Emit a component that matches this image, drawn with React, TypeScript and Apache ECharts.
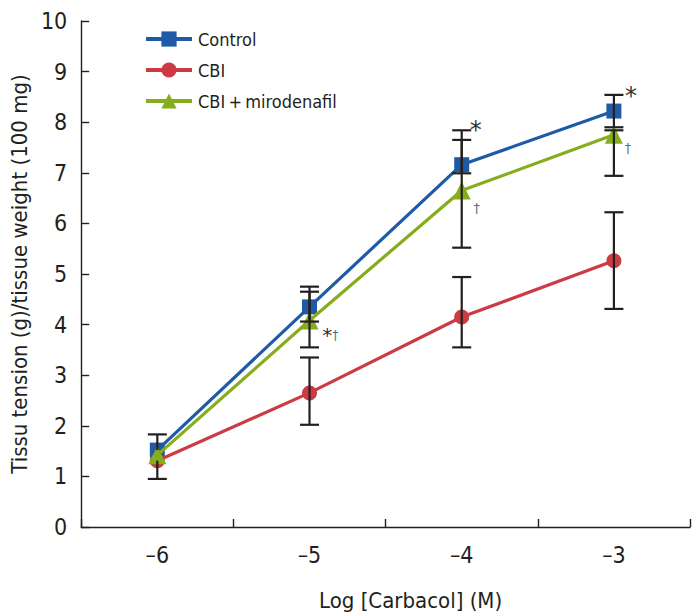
import React, { useEffect, useRef } from "react";
import * as echarts from "echarts";

const categories = ["\u20136", "\u20135", "\u20134", "\u20133"];
const seriesNames = ["Control", "CBI", "CBI\u2009+\u2009mirodenafil"];
const controlValues = [1.52, 4.35, 7.16, 8.22];
const cbiValues = [1.31, 2.65, 4.15, 5.26];
const miroValues = [1.42, 4.08, 6.65, 7.75];
// error bar ends (null = hidden / not drawn)
const controlLow = [null, 4.06, 6.99, 7.9];
const controlHigh = [1.83, 4.75, 7.84, 8.54];
const cbiLow = [0.95, 2.02, 3.55, 4.31];
const cbiHigh = [null, 3.35, 4.94, 6.22];
const miroLow = [null, 3.55, 5.52, 6.94];
const miroHigh = [null, 4.65, 7.65, 7.84];
// significance marks
const controlMarks = [null, null, "*", "*"];
const miroMarks = [null, "*\u2020", "\u2020", "\u2020"];

const FONT = "'DejaVu Sans Condensed', 'Roboto', sans-serif";
const BLUE = "#1f5aa6";
const RED = "#cc3b44";
const GREEN = "#86ad1c";
const INK = "#231f20";

function buildErr(values: number[], low: (number | null)[], high: (number | null)[]) {
  return values.map((v, i) => [i, v, low[i] == null ? NaN : low[i], high[i] == null ? NaN : high[i]]);
}

export default function App() {
  const ref = useRef<HTMLDivElement>(null);
  useEffect(() => {
    if (!ref.current) return;
    const chart = echarts.init(ref.current, null, { renderer: "svg" });

    const errData = [
      ...buildErr(controlValues, controlLow, controlHigh),
      ...buildErr(cbiValues, cbiLow, cbiHigh),
      ...buildErr(miroValues, miroLow, miroHigh),
    ];

    const renderItem = (params: any, api: any) => {
      const x = api.value(0);
      const v = api.value(1);
      const lo = api.value(2);
      const hi = api.value(3);
      const loV = isNaN(lo) ? v : lo;
      const hiV = isNaN(hi) ? v : hi;
      const pLo = api.coord([x, loV]);
      const pHi = api.coord([x, hiV]);
      const hw = 9.5;
      const style = { stroke: INK, lineWidth: 2.2, fill: "none" };
      const children: any[] = [
        { type: "line", shape: { x1: pLo[0], y1: pLo[1], x2: pHi[0], y2: pHi[1] }, style },
      ];
      if (!isNaN(lo)) children.push({ type: "line", shape: { x1: pLo[0] - hw, y1: pLo[1], x2: pLo[0] + hw, y2: pLo[1] }, style });
      if (!isNaN(hi)) children.push({ type: "line", shape: { x1: pHi[0] - hw, y1: pHi[1], x2: pHi[0] + hw, y2: pHi[1] }, style });
      return { type: "group", children };
    };

    const starStyle = { color: "#333", fontSize: 24, fontFamily: "DejaVu Sans", fontWeight: "normal" };
    const daggerStyle = { color: "#5b6b80", fontSize: 14, fontFamily: FONT };

    const controlData = controlValues.map((v, i) =>
      controlMarks[i]
        ? {
            value: v,
            label: {
              show: true,
              position: "inside",
              formatter: "{s|*}",
              offset: i === 2 ? [14, -35] : [17, -15],
              rich: { s: starStyle },
            },
          }
        : v
    );
    const miroData = miroValues.map((v, i) => {
      const m = miroMarks[i];
      if (!m) return v;
      const formatter = m.startsWith("*") ? "{s|*}{d|\u2020}" : "{d|\u2020}";
      const offset = i === 1 ? [21, 14] : i === 2 ? [15, 17] : [14, 13];
      return {
        value: v,
        label: { show: true, position: "inside", formatter, offset, rich: { s: { ...starStyle, fontSize: 20 }, d: daggerStyle } },
      };
    });

    chart.setOption({
      animation: false,
      backgroundColor: "#ffffff",
      textStyle: { fontFamily: FONT },
      grid: { left: 68, right: 10, top: 21, bottom: 86 },
      legend: {
        orient: "vertical",
        left: 139,
        top: 24,
        itemWidth: 46,
        itemHeight: 19,
        itemGap: 11,
        data: seriesNames,
        lineStyle: { width: 4 },
        textStyle: { fontFamily: FONT, fontSize: 18, color: INK, lineHeight: 20, padding: [0, 0, 0, 1] },
      },
      xAxis: {
        type: "category",
        data: categories,
        boundaryGap: true,
        name: "Log [Carbacol] (M)",
        nameLocation: "middle",
        nameGap: 62,
        nameTextStyle: { fontFamily: FONT, fontSize: 22, color: INK, padding: [0, 0, 0, 50] },
        axisLine: { lineStyle: { color: INK, width: 1.4 } },
        axisTick: { show: true, inside: true, length: 8, lineStyle: { color: INK, width: 1.4 } },
        axisLabel: { fontFamily: FONT, fontSize: 23, color: INK, margin: 16 },
        splitLine: { show: false },
      },
      yAxis: {
        type: "value",
        min: 0,
        max: 10,
        interval: 1,
        name: "Tissu tension (g)/tissue weight (100 mg)",
        nameLocation: "middle",
        nameGap: 50,
        nameTextStyle: { fontFamily: FONT, fontSize: 22, color: INK },
        axisLine: { show: true, lineStyle: { color: INK, width: 1.4 } },
        axisTick: { show: true, inside: true, length: 8, lineStyle: { color: INK, width: 1.4 } },
        axisLabel: { fontFamily: FONT, fontSize: 23, color: INK, margin: 14 },
        splitLine: { show: false },
      },
      series: [
        {
          name: seriesNames[0],
          type: "line",
          data: controlData,
          symbol: "rect",
          symbolSize: 15,
          color: BLUE,
          lineStyle: { width: 3.2, color: BLUE },
          itemStyle: { color: BLUE },
          z: 2,
        },
        {
          name: seriesNames[1],
          type: "line",
          data: cbiValues,
          symbol: "circle",
          symbolSize: 15,
          color: RED,
          lineStyle: { width: 3.2, color: RED },
          itemStyle: { color: RED },
          z: 3,
        },
        {
          name: seriesNames[2],
          type: "line",
          data: miroData,
          symbol: "triangle",
          symbolSize: 18,
          color: GREEN,
          lineStyle: { width: 3.2, color: GREEN },
          itemStyle: { color: GREEN },
          z: 4,
        },
        {
          type: "custom",
          renderItem,
          data: errData,
          z: 10,
          silent: true,
          encode: { x: 0, y: [1, 2, 3] },
        },
      ],
    });
    return () => chart.dispose();
  }, []);
  return <div ref={ref} style={{ position: "fixed", left: 0, top: 0, width: 700, height: 616 }} />;
}
